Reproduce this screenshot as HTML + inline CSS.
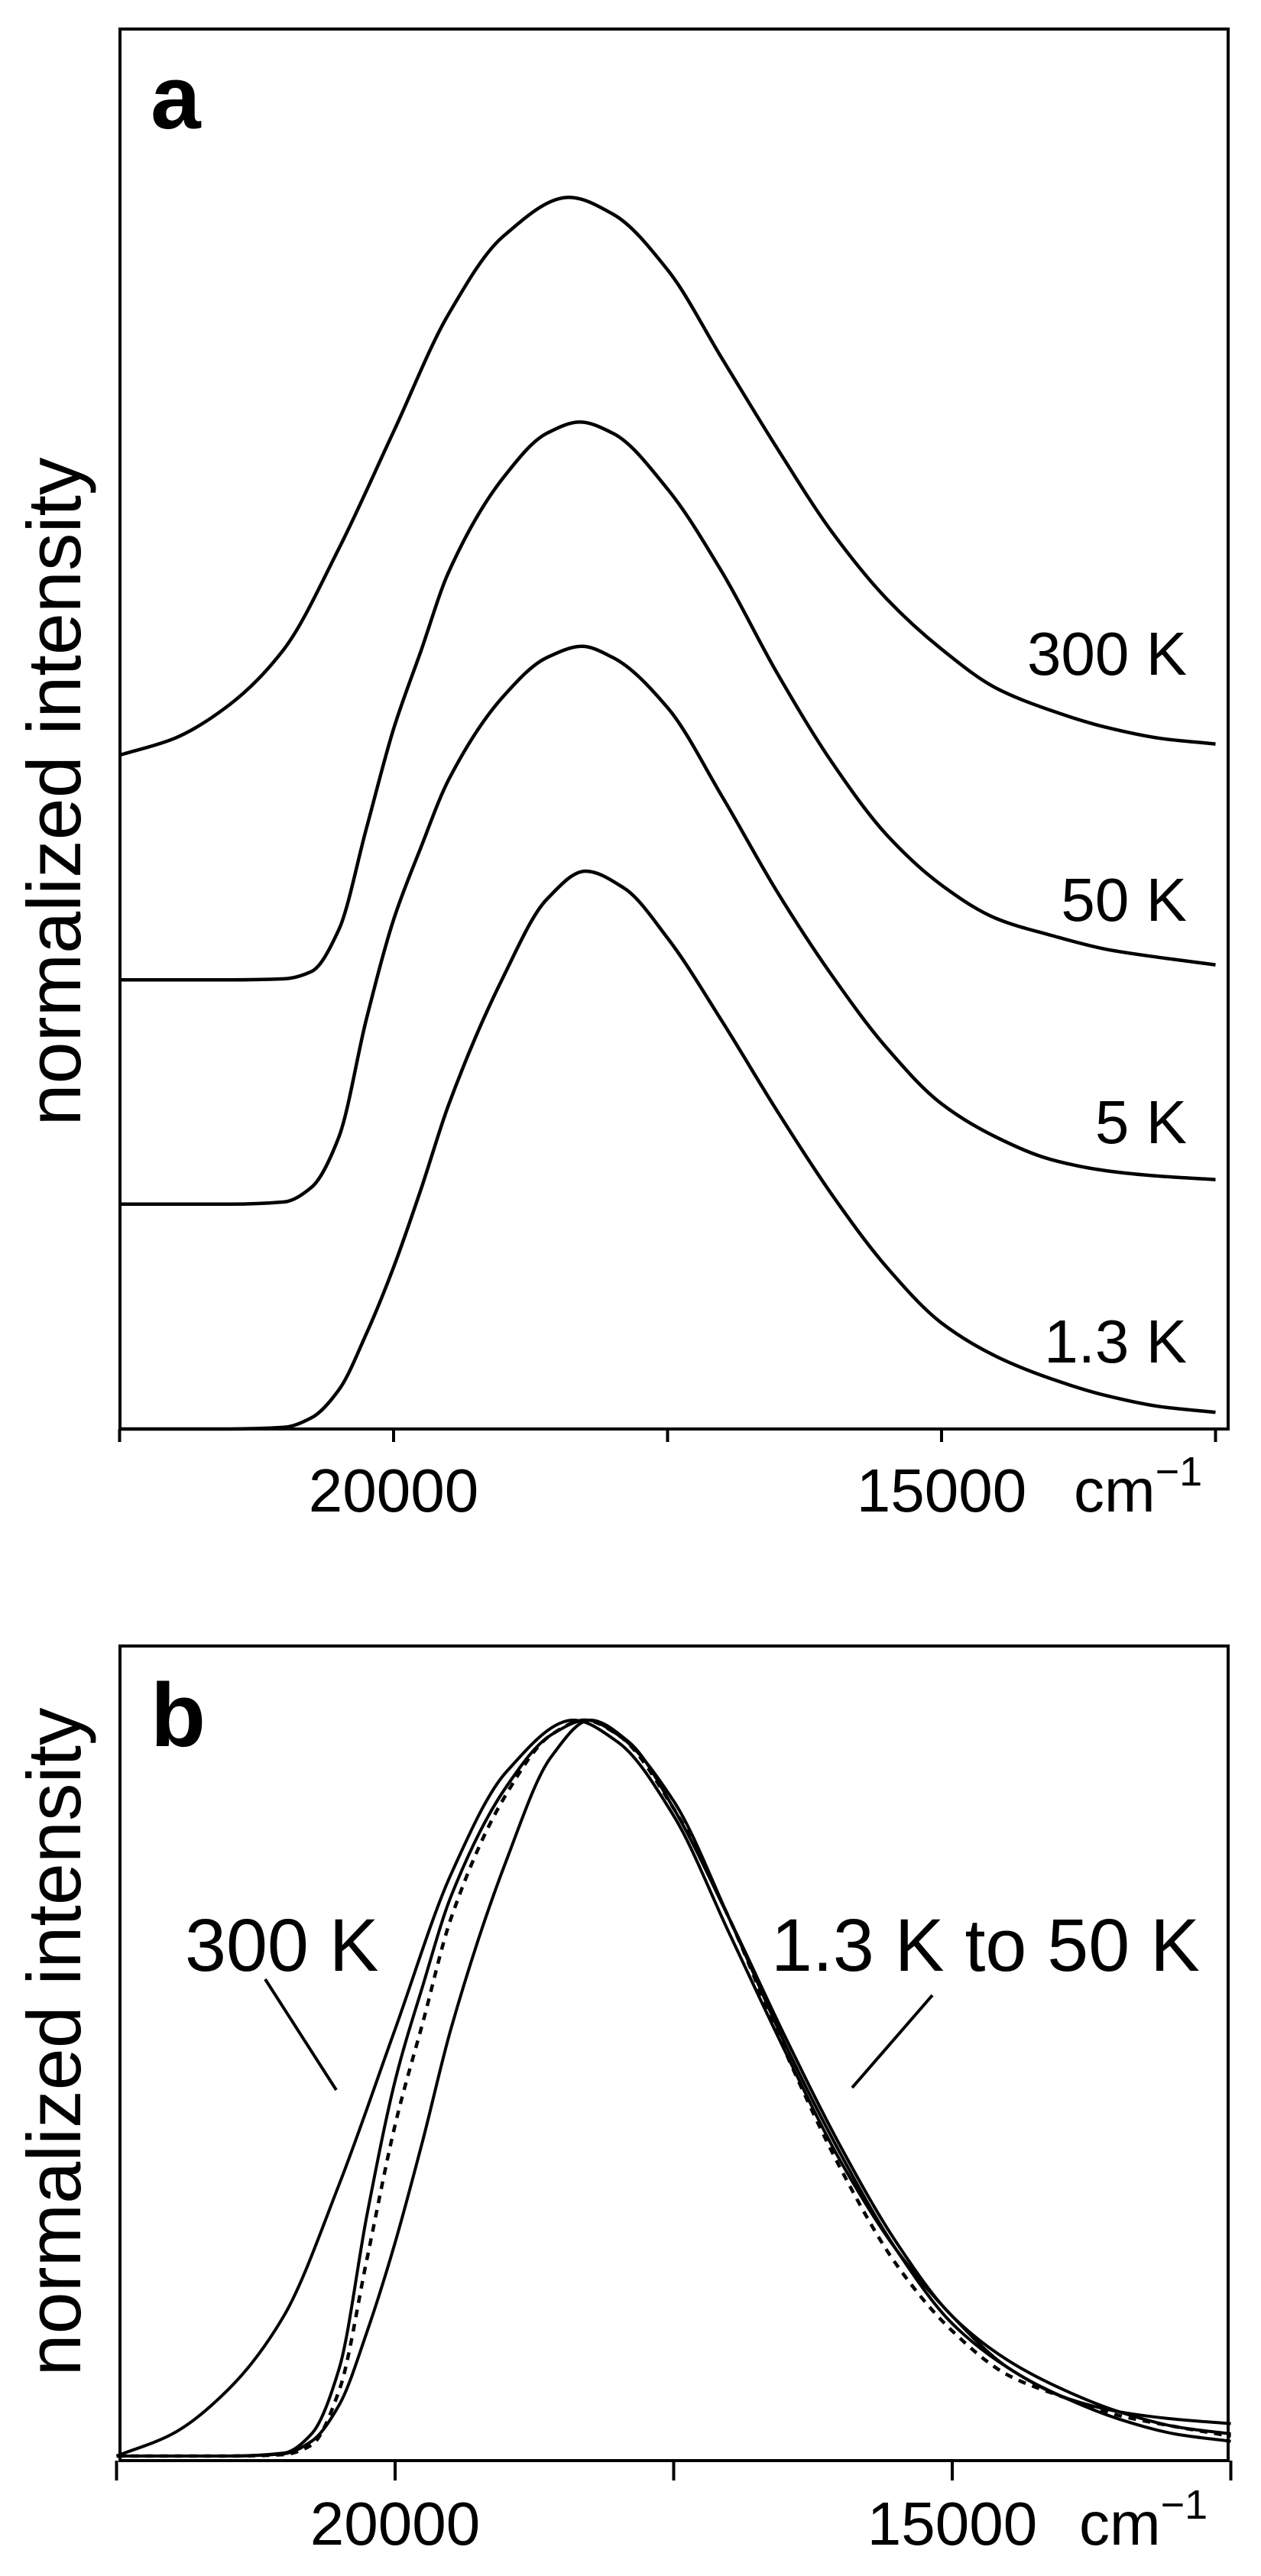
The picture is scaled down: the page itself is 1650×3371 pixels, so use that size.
<!DOCTYPE html>
<html><head><meta charset="utf-8"><style>
html,body{margin:0;padding:0;background:#fff;}
svg{display:block;}
text{font-family:"Liberation Sans",Arial,sans-serif;fill:#000;}
</style></head><body>
<svg id="fig" width="1650" height="3371" viewBox="0 0 1650 3371" xmlns="http://www.w3.org/2000/svg">
  <g id="panelA"></g>
  <g id="panelB"></g>
</svg>
<script>
// ---- data (wavenumber in cm^-1, normalized intensity) ----
const wn300 = [22500,22000,21500,21000,20500,20000,19500,19000,18400,18000,17500,17000,16500,16000,15500,15000,14500,14000,13500,13000,12500];
const int300 = [0,0.03,0.09,0.19,0.37,0.58,0.79,0.93,1,0.97,0.87,0.71,0.55,0.40,0.28,0.19,0.12,0.08,0.05,0.03,0.02];
const wn50 = [22500,21500,21000,20750,20500,20250,20000,19750,19500,19000,18600,18300,18000,17500,17000,16500,16000,15500,15000,14500,14000,13500,13000,12500];
const int50 = [0,0,0.002,0.015,0.09,0.27,0.45,0.59,0.73,0.90,0.98,1,0.98,0.88,0.73,0.55,0.39,0.26,0.17,0.11,0.08,0.055,0.04,0.027];
const wn5 = [22500,21500,21000,20750,20500,20250,20000,19750,19500,19000,18600,18280,18000,17500,17000,16500,16000,15500,15000,14500,14000,13500,13000,12500];
const int5 = [0,0,0.004,0.03,0.12,0.33,0.51,0.64,0.76,0.91,0.98,1,0.98,0.89,0.73,0.56,0.41,0.28,0.18,0.12,0.08,0.06,0.05,0.044];
const wn13 = [22500,21500,21000,20750,20500,20250,20000,19750,19500,19000,18600,18250,17900,17500,17000,16500,16000,15500,15000,14500,14000,13500,13000,12500];
const int13 = [0,0,0.003,0.02,0.07,0.17,0.29,0.43,0.58,0.81,0.95,1,0.97,0.88,0.73,0.57,0.42,0.29,0.19,0.13,0.09,0.06,0.04,0.03];
const offsetsA = [1.208,0.805,0.403,0];
const labelsA = ["300 K","50 K","5 K","1.3 K"];
const xTicks = [22500,20000,17500,15000,12500];
const xTickLabels = ["","20000","","15000",""];

const NS="http://www.w3.org/2000/svg";
function mk(tag,attrs,parent){const e=document.createElementNS(NS,tag);for(const k in attrs)e.setAttribute(k,attrs[k]);parent.appendChild(e);return e;}
// monotone cubic (Fritsch-Carlson) through points sorted by x
function smooth(pts){
  const n=pts.length,dx=[],sl=[],m=new Array(n);
  for(let i=0;i<n-1;i++){dx[i]=pts[i+1][0]-pts[i][0];sl[i]=(pts[i+1][1]-pts[i][1])/dx[i];}
  m[0]=sl[0];m[n-1]=sl[n-2];
  for(let i=1;i<n-1;i++){
    if(sl[i-1]*sl[i]<=0)m[i]=0;
    else{const w1=2*dx[i]+dx[i-1],w2=dx[i]+2*dx[i-1];m[i]=(w1+w2)/(w1/sl[i-1]+w2/sl[i]);}
  }
  let d="M"+pts[0][0].toFixed(1)+","+pts[0][1].toFixed(1);
  for(let i=0;i<n-1;i++){
    const h=dx[i];
    d+=" C"+(pts[i][0]+h/3).toFixed(1)+","+(pts[i][1]+m[i]*h/3).toFixed(1)+" "+(pts[i+1][0]-h/3).toFixed(1)+","+(pts[i+1][1]-m[i+1]*h/3).toFixed(1)+" "+pts[i+1][0].toFixed(1)+","+pts[i+1][1].toFixed(1);
  }
  return d;
}

function drawPanel(g,cfg){
  const xs=w=>cfg.x20k+(20000-w)*cfg.pxPerWn;
  const ys=v=>cfg.base-v*cfg.unit;
  const fr=mk('rect',{x:cfg.left,y:cfg.top,width:cfg.right-cfg.left,height:cfg.bottom-cfg.top,fill:'none',stroke:'#000','stroke-width':4},g);
  
  
  xTicks.forEach((t,i)=>{
    const x=xs(t);
    const tk=mk('line',{x1:x,x2:x,y1:cfg.bottom,y2:cfg.bottom+cfg.tickLen,stroke:'#000','stroke-width':4},g);
    
    
    if(xTickLabels[i]){
      const tl=mk('text',{x:x,y:cfg.tickLabelY,'font-size':80,'text-anchor':'middle'},g);
      tl.textContent=xTickLabels[i];
      
      
    }
  });
  const un=mk('text',{x:cfg.unitX,y:cfg.tickLabelY,'font-size':80},g);
  
  
  un.innerHTML='cm<tspan dy="-34" font-size="54">−1</tspan>';
  const yl=mk('text',{x:0,y:0,'font-size':99,'text-anchor':'middle',transform:'translate(105,'+cfg.yLabelC+') rotate(-90)'},g);
  yl.textContent='normalized intensity';
  
  
  const pl=mk('text',{x:197,y:cfg.panelLabelY,'font-size':118,'font-weight':'bold'},g);
  pl.textContent=cfg.panelLabel;
  
  
  return {xs,ys};
}

// Panel A
const gA=document.getElementById('panelA');
const A=drawPanel(gA,{left:157,right:1607,top:38,bottom:1870,x20k:515,pxPerWn:717/5000,base:1870,unit:730,tickLen:17,tickLabelY:1978,unitX:1405,yLabelC:1036,panelLabelY:168,panelLabel:'a'});
const seriesWn=[wn300,wn50,wn5,wn13];
const seriesInt=[int300,int50,int5,int13];
const labelY=[883,1205,1496,1783];
seriesWn.forEach((wn,s)=>{
  const pts=wn.map((w,i)=>[A.xs(w),A.ys(seriesInt[s][i]+offsetsA[s])]);
  const p=mk('path',{d:smooth(pts),fill:'none',stroke:'#000','stroke-width':4.5,'stroke-linejoin':'round'},gA);
  
  
  const t=mk('text',{x:1553,y:labelY[s],'font-size':80,'text-anchor':'end'},gA);
  t.textContent=labelsA[s];
  
  
});

// Panel B
const gB=document.getElementById('panelB');
const B=drawPanel(gB,{left:157,right:1607,top:2154,bottom:3220,x20k:517,pxPerWn:729/5000,base:3214,unit:963,tickLen:26,tickLabelY:3330,unitX:1412,yLabelC:2672,panelLabelY:2285,panelLabel:'b'});
const styleB=[{dash:null,w:4},{dash:'10,9',w:4.5},{dash:null,w:4},{dash:null,w:4}];
seriesWn.forEach((wn,s)=>{
  const pts=wn.map((w,i)=>[B.xs(w),B.ys(seriesInt[s][i])]);
  const p=mk('path',{d:smooth(pts),fill:'none',stroke:'#000','stroke-width':styleB[s].w},gB);
  if(styleB[s].dash)p.setAttribute('stroke-dasharray',styleB[s].dash);
  
  
});
const t1=mk('text',{x:242,y:2579,'font-size':97},gB);
t1.textContent='300 K';


const t2=mk('text',{x:1009,y:2579,'font-size':97},gB);
t2.textContent='1.3 K to 50 K';


const l1=mk('line',{x1:347,y1:2590,x2:440,y2:2735,stroke:'#000','stroke-width':4},gB);


const l2=mk('line',{x1:1220,y1:2611,x2:1115,y2:2732,stroke:'#000','stroke-width':4},gB);


</script>
</body></html>
